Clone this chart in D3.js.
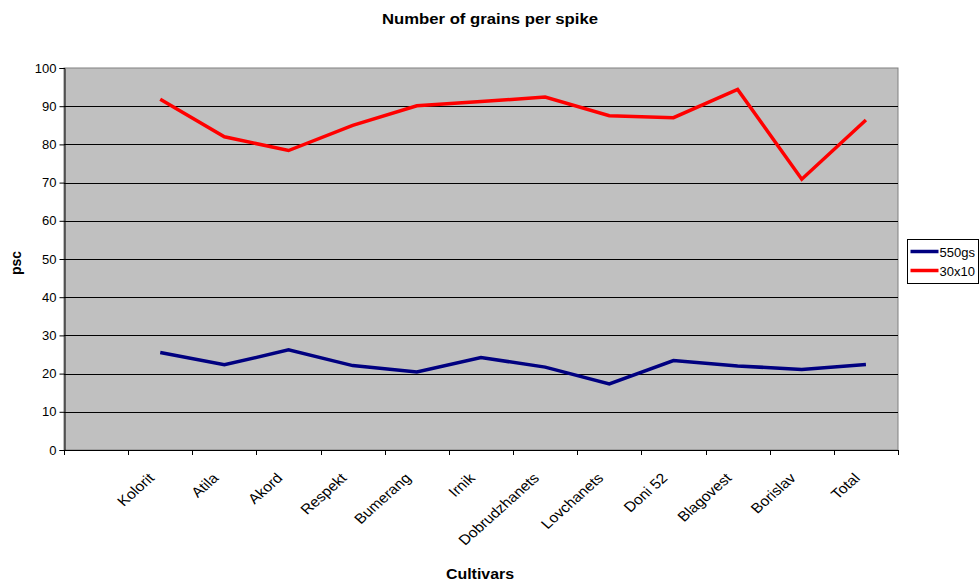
<!DOCTYPE html>
<html>
<head>
<meta charset="utf-8">
<script src="https://cdn.jsdelivr.net/npm/d3@7/dist/d3.min.js"></script>
<style>
  html, body { margin: 0; padding: 0; background: #fff; }
  svg { display: block; font-family: "Liberation Sans", Arial, sans-serif; }
</style>
</head>
<body>
<svg id="chart" width="980" height="582"></svg>
<script>
// Cultivars (the first slot on the axis is left empty)
const categories = ["", "Kolorit", "Atila", "Akord", "Respekt", "Bumerang", "Irnik",
  "Dobrudzhanets", "Lovchanets", "Doni 52", "Blagovest", "Borislav", "Total"];
const cultivars = categories.slice(1);

// Number of grains per spike for each sowing scheme
const values550gs = [25.5, 22.3, 26.2, 22.1, 20.4, 24.2, 21.7, 17.3, 23.4, 22.0, 21.1, 22.4];
const values30x10 = [91.8, 82.0, 78.4, 85.0, 90.1, 91.2, 92.4, 87.5, 87.0, 94.4, 70.9, 86.4];

const yTicks = [0, 10, 20, 30, 40, 50, 60, 70, 80, 90, 100];

const seriesList = [
  { name: "550gs", color: "#000080", values: values550gs },
  { name: "30x10", color: "#ff0000", values: values30x10 }
];

const svg = d3.select("#chart");
const plot = { left: 64, top: 68, right: 898, bottom: 450 };

const x = d3.scaleBand().domain(categories).range([plot.left, plot.right]).paddingInner(0).paddingOuter(0);
const y = d3.scaleLinear().domain([0, 100]).range([plot.bottom, plot.top]);

// Plot background
svg.append("rect")
  .attr("x", plot.left).attr("y", plot.top)
  .attr("width", plot.right - plot.left).attr("height", plot.bottom - plot.top)
  .attr("fill", "#c0c0c0").attr("stroke", "#808080").attr("stroke-width", 1);

// Horizontal grid lines
svg.append("g").selectAll("line").data(yTicks.filter(d => d > 0 && d < 100)).join("line")
  .attr("x1", plot.left).attr("x2", plot.right)
  .attr("y1", d => Math.round(y(d)) + 0.5).attr("y2", d => Math.round(y(d)) + 0.5)
  .attr("stroke", "#000").attr("stroke-width", 1);

// Y axis
const yAxis = svg.append("g")
  .attr("transform", `translate(${plot.left + 0.5},0)`)
  .call(d3.axisLeft(y).tickValues(yTicks).tickSize(5).tickPadding(3).tickFormat(d3.format("d")));
yAxis.select(".domain").attr("stroke", "#000");
yAxis.selectAll(".tick line").attr("stroke", "#000");
yAxis.selectAll(".tick text").attr("font-size", 13).attr("fill", "#000")
  .attr("font-family", "'Liberation Sans', Arial, sans-serif");

// X axis: ticks sit on the category boundaries
const boundaries = categories.map(c => x(c)).concat([plot.right]);
const xAxis = svg.append("g");
xAxis.append("line")
  .attr("x1", plot.left).attr("x2", plot.right + 1)
  .attr("y1", plot.bottom + 0.5).attr("y2", plot.bottom + 0.5)
  .attr("stroke", "#000");
xAxis.selectAll("line.tick").data(boundaries).join("line")
  .attr("class", "tick")
  .attr("x1", d => Math.round(d) + 0.5).attr("x2", d => Math.round(d) + 0.5)
  .attr("y1", plot.bottom).attr("y2", plot.bottom + 5)
  .attr("stroke", "#000");
// Slanted category labels, slightly widened
const labelGroups = xAxis.selectAll("g.xlabel").data(cultivars).join("g")
  .attr("class", "xlabel")
  .attr("transform", d => `translate(${x(d) + x.bandwidth() / 2 - 5},${plot.bottom + 29}) scale(1.12,1)`);
labelGroups.append("g")
  .attr("transform", "rotate(-45)")
  .append("text")
  .attr("x", 0).attr("y", 0)
  .attr("text-anchor", "end")
  .attr("font-size", 14)
  .attr("fill", "#000")
  .text(d => d);

// Series lines
const line = d3.line()
  .x((d, i) => x(cultivars[i]) + x.bandwidth() / 2)
  .y(d => y(d));

svg.append("g").selectAll("path").data(seriesList).join("path")
  .attr("d", s => line(s.values))
  .attr("fill", "none")
  .attr("stroke", s => s.color)
  .attr("stroke-width", 3.5)
  .attr("stroke-linejoin", "miter");

// Title and axis titles
svg.append("text").attr("x", 490).attr("y", 24).attr("text-anchor", "middle")
  .attr("font-size", 14).attr("font-weight", "bold")
  .attr("textLength", 216).attr("lengthAdjust", "spacingAndGlyphs")
  .text("Number of grains per spike");
svg.append("text").attr("x", 480).attr("y", 579).attr("text-anchor", "middle")
  .attr("font-size", 14).attr("font-weight", "bold")
  .attr("textLength", 68).attr("lengthAdjust", "spacingAndGlyphs")
  .text("Cultivars");
svg.append("text").attr("transform", "translate(21,263) rotate(-90)").attr("text-anchor", "middle")
  .attr("font-size", 14).attr("font-weight", "bold").text("psc");

// Legend
const legend = svg.append("g").attr("transform", "translate(907.5,239.5)");
legend.append("rect").attr("width", 71).attr("height", 44)
  .attr("fill", "#fff").attr("stroke", "#000");
legend.selectAll("g.item").data(seriesList).join("g")
  .attr("class", "item")
  .attr("transform", (d, i) => `translate(0,${12 + i * 19})`)
  .each(function (d) {
    const g = d3.select(this);
    g.append("line").attr("x1", 3).attr("x2", 31).attr("y1", 0).attr("y2", 0)
      .attr("stroke", d.color).attr("stroke-width", 3.5);
    g.append("text").attr("x", 32).attr("y", 5).attr("font-size", 13).text(d.name);
  });
</script>
</body>
</html>
